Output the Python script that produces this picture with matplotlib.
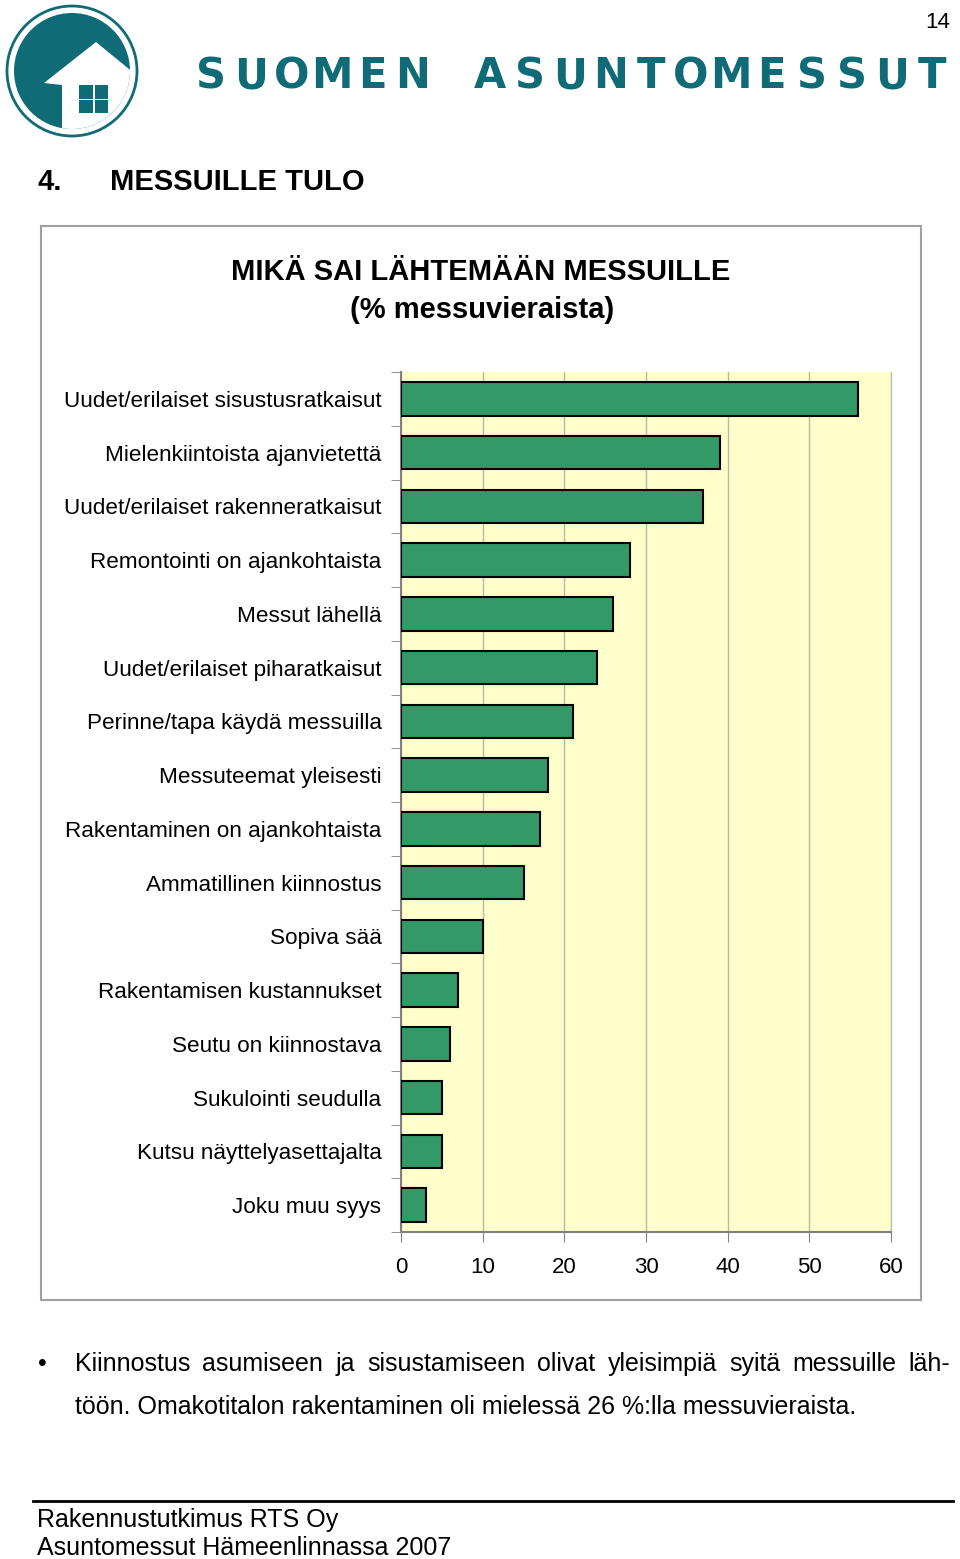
import numpy as np
import matplotlib
matplotlib.use("Agg")
import matplotlib.pyplot as plt
from matplotlib.patches import Circle, Polygon, Rectangle
from matplotlib.lines import Line2D

plt.rcParams['font.family'] = ['Liberation Sans', 'DejaVu Sans']

# data
categories = [
    'Uudet/erilaiset sisustusratkaisut',
    'Mielenkiintoista ajanvietettä',
    'Uudet/erilaiset rakenneratkaisut',
    'Remontointi on ajankohtaista',
    'Messut lähellä',
    'Uudet/erilaiset piharatkaisut',
    'Perinne/tapa käydä messuilla',
    'Messuteemat yleisesti',
    'Rakentaminen on ajankohtaista',
    'Ammatillinen kiinnostus',
    'Sopiva sää',
    'Rakentamisen kustannukset',
    'Seutu on kiinnostava',
    'Sukulointi seudulla',
    'Kutsu näyttelyasettajalta',
    'Joku muu syys',
]
values = [56, 39, 37, 28, 26, 24, 21, 18, 17, 15, 10, 7, 6, 5, 5, 3]
xticks = [0, 10, 20, 30, 40, 50, 60]

W, H = 960, 1559
fig = plt.figure(figsize=(W / 100, H / 100), dpi=100)

# page overlay in pixel coordinates
page = fig.add_axes([0, 0, 1, 1])
page.set_xlim(0, W)
page.set_ylim(H, 0)
page.axis('off')

teal = '#0f6b76'

# logo
page.add_patch(Circle((72, 71), 65, facecolor='white', edgecolor=teal, lw=2))
disc = Circle((72, 71), 58, facecolor=teal, edgecolor='none')
page.add_patch(disc)
house = Polygon([(44, 83), (96, 42), (135, 74), (170, 100), (170, 170),
                 (62, 170), (62, 85)], closed=True, facecolor='white',
                edgecolor='none')
page.add_patch(house)
house.set_clip_path(disc)
for wx, wy in [(79, 85), (94.5, 85), (79, 99.5), (94.5, 99.5)]:
    page.add_patch(Rectangle((wx, wy), 13.5, 13.5, facecolor=teal, edgecolor='none'))

# brand name
brand = 'SUOMEN ASUNTOMESSUT'
for i, ch in enumerate(brand):
    if ch == ' ':
        continue
    xc = 211 + i * 40.3 if i < 6 else 490 + (i - 7) * 40.2
    page.text(xc, 76, ch, fontsize=30, fontweight='bold', color=teal,
              ha='center', va='center', family=['DejaVu Sans'])

page.text(950, 22, '14', fontsize=16, ha='right', va='center')

page.text(37, 182, '4.', fontsize=21, fontweight='bold', va='center')
page.text(110, 182, 'MESSUILLE TULO', fontsize=21, fontweight='bold', va='center')

# chart frame
page.add_patch(Rectangle((41, 226), 880, 1074, facecolor='none',
                         edgecolor='#a0a0a0', lw=1.5))
page.text(481, 272, 'MIKÄ SAI LÄHTEMÄÄN MESSUILLE', fontsize=21,
          fontweight='bold', ha='center', va='center')
page.text(482, 310, '(% messuvieraista)', fontsize=21,
          fontweight='bold', ha='center', va='center')

# bullet text, first line justified
page.text(42, 1364, '•', fontsize=18, ha='center', va='center')
words = 'Kiinnostus asumiseen ja sisustamiseen olivat yleisimpiä syitä messuille läh-'.split()
renderer = fig.canvas.get_renderer()
items = [page.text(0, 1364, w, fontsize=18, va='center') for w in words]
widths = [t.get_window_extent(renderer).width for t in items]
gap = (950 - 75 - sum(widths)) / (len(words) - 1)
xpos = 75
for t, w in zip(items, widths):
    t.set_x(xpos)
    xpos += w + gap
page.text(75, 1407, 'töön. Omakotitalon rakentaminen oli mielessä 26 %:lla messuvieraista.',
          fontsize=18, va='center')

# footer
page.add_line(Line2D([33, 953], [1501, 1501], color='black', lw=2))
page.text(37, 1520, 'Rakennustutkimus RTS Oy', fontsize=18, va='center')
page.text(37, 1548, 'Asuntomessut Hämeenlinnassa 2007', fontsize=18, va='center')

# bar chart
ax = fig.add_axes([401 / W, 1 - 1232 / H, 490 / W, 860 / H])
ax.set_facecolor('#ffffcc')
y = np.arange(len(categories))
ax.barh(y, values, height=0.62, color='#339966', edgecolor='black', lw=1.5, zorder=3)
ax.set_xlim(0, 60)
ax.set_ylim(len(categories) - 0.5, -0.5)
ax.set_xticks(xticks)
ax.set_xticklabels([str(t) for t in xticks], fontsize=16)
ax.set_yticks(y)
ax.set_yticklabels(categories, fontsize=16.2)
ax.set_yticks(np.arange(len(categories) + 1) - 0.5, minor=True)
ax.tick_params(axis='y', which='major', length=0, pad=14)
ax.tick_params(axis='y', which='minor', length=7, color='#808080', direction='out')
ax.tick_params(axis='x', length=7, color='#808080', pad=11)
ax.grid(axis='x', color='#b8b8a8', lw=1, zorder=0)
for s in ['left', 'bottom']:
    ax.spines[s].set_color('#808080')
    ax.spines[s].set_linewidth(1.5)
ax.spines['right'].set_color('#b8b8a8')
ax.spines['top'].set_visible(False)

fig.savefig('out.png', dpi=100)
